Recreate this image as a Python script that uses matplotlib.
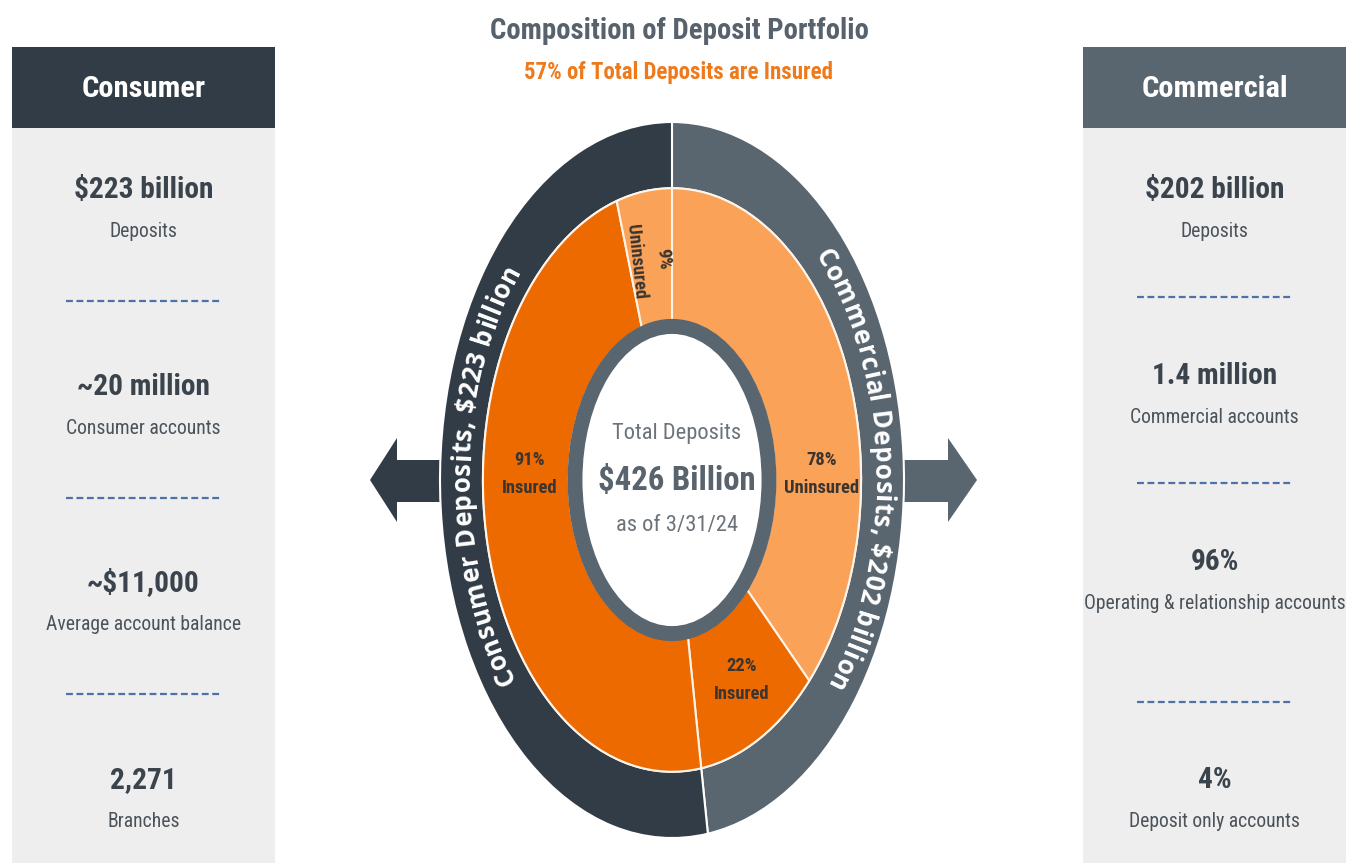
import matplotlib
matplotlib.use("Agg")
import matplotlib.pyplot as plt
import numpy as np
from matplotlib.patches import Rectangle, Polygon, Ellipse
from matplotlib.font_manager import FontProperties, fontManager

# ---------------- data ----------------
title = "Composition of Deposit Portfolio"
subtitle = "57% of Total Deposits are Insured"
segments = ["Consumer", "Commercial"]
deposits_bn = [223, 202]             # consumer, commercial
insured_pct = [91, 22]               # consumer, commercial
uninsured_pct = [9, 78]              # consumer, commercial
total_deposits_bn = 426
as_of = "3/31/24"
consumer_values = ["$223 billion", "~20 million", "~$11,000", "2,271"]
consumer_labels = ["Deposits", "Consumer accounts", "Average account balance", "Branches"]
commercial_values = ["$202 billion", "1.4 million", "96%", "4%"]
commercial_labels = ["Deposits", "Commercial accounts", "Operating & relationship accounts",
                     "Deposit only accounts"]

# ---------------- style ----------------
W, H = 1348, 863
DARK = "#313C46"
GRAY = "#59656F"
ORANGE = "#EC6A00"
LORANGE = "#F9A258"
PANEL = "#EEEEEE"
TXT = "#3B444D"
DASH = "#4C72A6"

# pick the narrowest available sans family for the DIN-like text
_names = {f.name for f in fontManager.ttflist}
NKW = None
for cand in ["Roboto Condensed", "Liberation Sans Narrow", "Open Sans Condensed",
             "Noto Sans Display", "DejaVu Sans Condensed"]:
    if cand in _names:
        NKW = dict(family=cand)
        break
if NKW is None:
    cond = [f for f in fontManager.ttflist if f.name == "Noto Sans" and "ondensed" in str(f.stretch)]
    cond2 = [f for f in fontManager.ttflist if f.name == "DejaVu Sans" and "ondensed" in str(f.stretch)]
    if cond:
        NKW = dict(family="Noto Sans", stretch="condensed")
    elif cond2:
        NKW = dict(family="DejaVu Sans", stretch="condensed")
    elif "Roboto" in _names:
        NKW = dict(family="Roboto")
    else:
        NKW = dict(family="DejaVu Sans")
CURVE_FONT = ["Open Sans", "DejaVu Sans"]

fig = plt.figure(figsize=(W / 100, H / 100), dpi=100)
fig.patch.set_facecolor("white")
renderer = fig.canvas.get_renderer()


def fp_of(size, weight="normal"):
    return FontProperties(size=size, weight=weight, **NKW)


def fit_size(sample, target_w, weight="normal", max_size=40):
    w = renderer.get_text_width_height_descent(sample, fp_of(10, weight), ismath=False)[0]
    return min(max_size, 10 * target_w / w)


bg = fig.add_axes([0, 0, 1, 1])
bg.set_xlim(0, W)
bg.set_ylim(H, 0)
bg.axis("off")

# ---------------- title ----------------
bg.text(679, 31, title, ha="center", va="center",
        fontproperties=fp_of(fit_size(title, 378, "bold"), "bold"), color="#58626C")
bg.text(679, 73, subtitle, ha="center", va="center",
        fontproperties=fp_of(fit_size(subtitle, 310, "bold"), "bold"), color="#EE7A1C")

# ---------------- side panels ----------------
S_HEAD = fit_size("Commercial", 146, "bold")
S_VAL = fit_size("$223 billion", 140, "bold")
S_LAB = fit_size("Consumer accounts", 154)


def panel(x0, x1, head_color, name, values, labels, ys, dash_ys):
    bg.add_patch(Rectangle((x0, 128), x1 - x0, H - 128, fc=PANEL, ec="none", zorder=1))
    bg.add_patch(Rectangle((x0, 47), x1 - x0, 81, fc=head_color, ec="none", zorder=1))
    cx = (x0 + x1) / 2
    bg.text(cx, 89, name, ha="center", va="center", fontproperties=fp_of(S_HEAD, "bold"),
            color="white", zorder=3)
    for v, l, y in zip(values, labels, ys):
        bg.text(cx, y, v, ha="center", va="center", fontproperties=fp_of(S_VAL, "bold"),
                color=TXT, zorder=3)
        bg.text(cx, y + 41, l, ha="center", va="center", fontproperties=fp_of(S_LAB),
                color="#4A525A", zorder=3)
    for y in dash_ys:
        bg.plot([cx - 78, cx + 78], [y, y], color=DASH, lw=1.6, ls=(0, (3.1, 1.6)), zorder=3)


panel(12, 275, DARK, segments[0], consumer_values, consumer_labels,
      [190, 387, 583, 780], [301, 498, 694])
panel(1083, 1346, GRAY, segments[1], commercial_values, commercial_labels,
      [190, 376, 562, 780], [297, 483, 702])

# ---------------- arrows ----------------
bg.add_patch(Polygon([(460, 460), (397, 460), (397, 438), (370, 480), (397, 522),
                      (397, 502), (460, 502)], closed=True, fc=DARK, ec="none", zorder=1))
bg.add_patch(Polygon([(885, 460), (948, 460), (948, 438), (977, 480), (948, 522),
                      (948, 502), (885, 502)], closed=True, fc=GRAY, ec="none", zorder=1))

# ---------------- donut ----------------
CX, CY, RX, RY = 672, 480, 232, 358
dax = fig.add_axes([(CX - RX) / W, (H - (CY + RY)) / H, 2 * RX / W, 2 * RY / H])
dax.patch.set_alpha(0)

outer_vals = [deposits_bn[1], deposits_bn[0]]
dax.pie(outer_vals, radius=1.0, colors=[GRAY, DARK], startangle=90, counterclock=False,
        wedgeprops=dict(width=0.185, edgecolor="white", linewidth=1.5))

inner_vals = [deposits_bn[1] * uninsured_pct[1] / 100, deposits_bn[1] * insured_pct[1] / 100,
              deposits_bn[0] * insured_pct[0] / 100, deposits_bn[0] * uninsured_pct[0] / 100]
dax.pie(inner_vals, radius=0.815, colors=[LORANGE, ORANGE, ORANGE, LORANGE], startangle=90,
        counterclock=False, wedgeprops=dict(width=0.37, edgecolor="#FFF4EA", linewidth=1.5))
dax.add_patch(Ellipse((0, 0), 0.90, 0.90, fc=GRAY, ec="none", zorder=5))
dax.add_patch(Ellipse((0, 0), 0.772, 0.816, fc="white", ec="none", zorder=6))
dax.set_aspect("auto")
dax.set_xlim(-1, 1)
dax.set_ylim(-1, 1)
dax.axis("off")

# centre text + ring labels on a top overlay
top = fig.add_axes([0, 0, 1, 1])
top.set_xlim(0, W)
top.set_ylim(H, 0)
top.axis("off")
S_C1 = fit_size("Total Deposits", 128)
S_C2 = fit_size("$426 Billion", 158, "bold")
top.text(677, 433, "Total Deposits", ha="center", va="center", fontproperties=fp_of(S_C1),
         color="#6C737A")
top.text(677, 481, f"${total_deposits_bn} Billion", ha="center", va="center",
         fontproperties=fp_of(S_C2, "bold"), color="#59636D")
top.text(677, 525, f"as of {as_of}", ha="center", va="center", fontproperties=fp_of(S_C1),
         color="#6C737A")

S_IN = fit_size("Uninsured", 75, "bold")
lab_kw = dict(ha="center", va="center", fontproperties=fp_of(S_IN, "bold"), color="#3A3530",
              linespacing=1.7)
top.text(530, 474, f"{insured_pct[0]}%\nInsured", **lab_kw)
top.text(822, 474, f"{uninsured_pct[1]}%\nUninsured", **lab_kw)
top.text(742, 680, f"{insured_pct[1]}%\nInsured", **lab_kw)
top.text(650, 260, f"{uninsured_pct[0]}%\nUninsured", rotation=-84, **lab_kw)

# ---------------- curved labels ----------------
fpc = FontProperties(family=CURVE_FONT, weight="bold", size=18.5)


def char_w(c):
    if c == " ":
        w1 = renderer.get_text_width_height_descent("x x", fpc, ismath=False)[0]
        w2 = renderer.get_text_width_height_descent("xx", fpc, ismath=False)[0]
        return w1 - w2
    return renderer.get_text_width_height_descent(c, fpc, ismath=False)[0]


def curved(text, t0_deg, a, b, spacing=1.0):
    cyu = H - CY
    ts = np.linspace(np.deg2rad(t0_deg) + np.pi, np.deg2rad(t0_deg) - np.pi, 4001)
    xs = CX + a * np.cos(ts)
    ys = cyu + b * np.sin(ts)
    seg = np.hypot(np.diff(xs), np.diff(ys))
    s = np.concatenate([[0], np.cumsum(seg)])
    s = s - s[2000]
    widths = [char_w(c) * spacing for c in text]
    L = sum(widths)
    pos = -L / 2
    for c, w in zip(text, widths):
        sc = pos + w / 2
        pos += w
        t = np.interp(sc, s, ts)
        x = CX + a * np.cos(t)
        y = cyu + b * np.sin(t)
        tx, ty = a * np.sin(t), -b * np.cos(t)
        rot = np.degrees(np.arctan2(ty, tx))
        fig.text(x / W, y / H, c, ha="center", va="center", rotation=rot,
                 rotation_mode="anchor", fontproperties=fpc, color="white", zorder=20)


a_mid = 0.905 * RX
b_mid = 0.905 * RY
curved(f"Consumer Deposits, ${deposits_bn[0]} billion", 179, a_mid, b_mid, spacing=1.06)
curved(f"Commercial Deposits, ${deposits_bn[1]} billion", 2, a_mid, b_mid, spacing=1.06)

fig.savefig("out.png", dpi=100, facecolor="white")
